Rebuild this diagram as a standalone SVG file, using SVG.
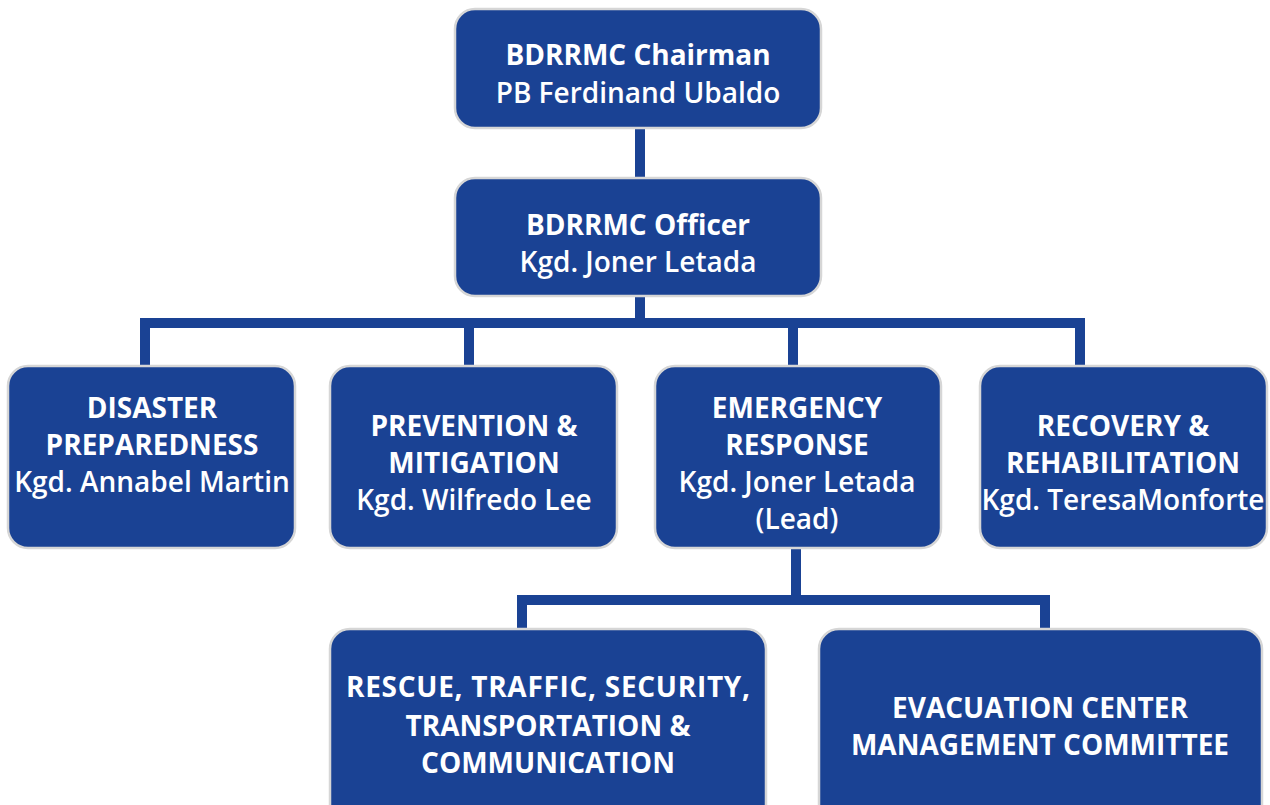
<svg xmlns="http://www.w3.org/2000/svg" width="1270" height="805" viewBox="0 0 1270 805">
<style>
.box{fill:#1a4294;stroke:#d6d6d6;stroke-width:2.5}
.t{font-family:"Open Sans","Noto Sans","Liberation Sans",sans-serif;fill:#ffffff;text-anchor:middle;font-size:28px}
.b{font-weight:700}
.m{font-weight:600}
.c{fill:none;stroke:#1a4294;stroke-width:10;stroke-linejoin:miter;stroke-linecap:butt}
</style>
<rect width="1270" height="805" fill="#ffffff"/>
<g id="connectors">
<path class="c" d="M640 128V178"/>
<path class="c" d="M640 296V323M145 366V323H1080V366M469 323V366M793 323V366"/>
<path class="c" d="M796 548V600M522 630V600H1045V630"/>
</g>
<g id="chairman">
<rect class="box" x="455" y="9" width="366" height="119" rx="20"/>
<text class="t b" x="638" y="65">BDRRMC Chairman</text>
<text class="t m" x="638" y="103">PB Ferdinand Ubaldo</text>
</g>
<g id="officer">
<rect class="box" x="455" y="178" width="366" height="118" rx="20"/>
<text class="t b" x="638" y="235">BDRRMC Officer</text>
<text class="t m" x="638" y="272">Kgd. Joner Letada</text>
</g>
<g id="preparedness">
<rect class="box" x="8" y="366" width="287" height="182" rx="20"/>
<text class="t b" x="152" y="418">DISASTER</text>
<text class="t b" x="152" y="455">PREPAREDNESS</text>
<text class="t m" x="152" y="492">Kgd. Annabel Martin</text>
</g>
<g id="prevention">
<rect class="box" x="330" y="366" width="287" height="182" rx="20"/>
<text class="t b" x="474" y="436">PREVENTION &amp;</text>
<text class="t b" x="474" y="473">MITIGATION</text>
<text class="t m" x="474" y="510">Kgd. Wilfredo Lee</text>
</g>
<g id="response">
<rect class="box" x="655" y="366" width="286" height="182" rx="20"/>
<text class="t b" x="797" y="418">EMERGENCY</text>
<text class="t b" x="797" y="455">RESPONSE</text>
<text class="t m" x="797" y="492">Kgd. Joner Letada</text>
<text class="t m" x="797" y="529">(Lead)</text>
</g>
<g id="recovery">
<rect class="box" x="980" y="366" width="287" height="182" rx="20"/>
<text class="t b" x="1123" y="436">RECOVERY &amp;</text>
<text class="t b" x="1123" y="473">REHABILITATION</text>
<text class="t m" x="1123" y="510">Kgd. TeresaMonforte</text>
</g>
<g id="rescue">
<rect class="box" x="330" y="629" width="436" height="200" rx="20"/>
<text class="t b" x="548" y="697" textLength="404" lengthAdjust="spacing">RESCUE, TRAFFIC, SECURITY,</text>
<text class="t b" x="548" y="736">TRANSPORTATION &amp;</text>
<text class="t b" x="548" y="773">COMMUNICATION</text>
</g>
<g id="evacuation">
<rect class="box" x="819" y="629" width="443" height="200" rx="20"/>
<text class="t b" x="1040" y="718">EVACUATION CENTER</text>
<text class="t b" x="1040" y="755">MANAGEMENT COMMITTEE</text>
</g>
</svg>
